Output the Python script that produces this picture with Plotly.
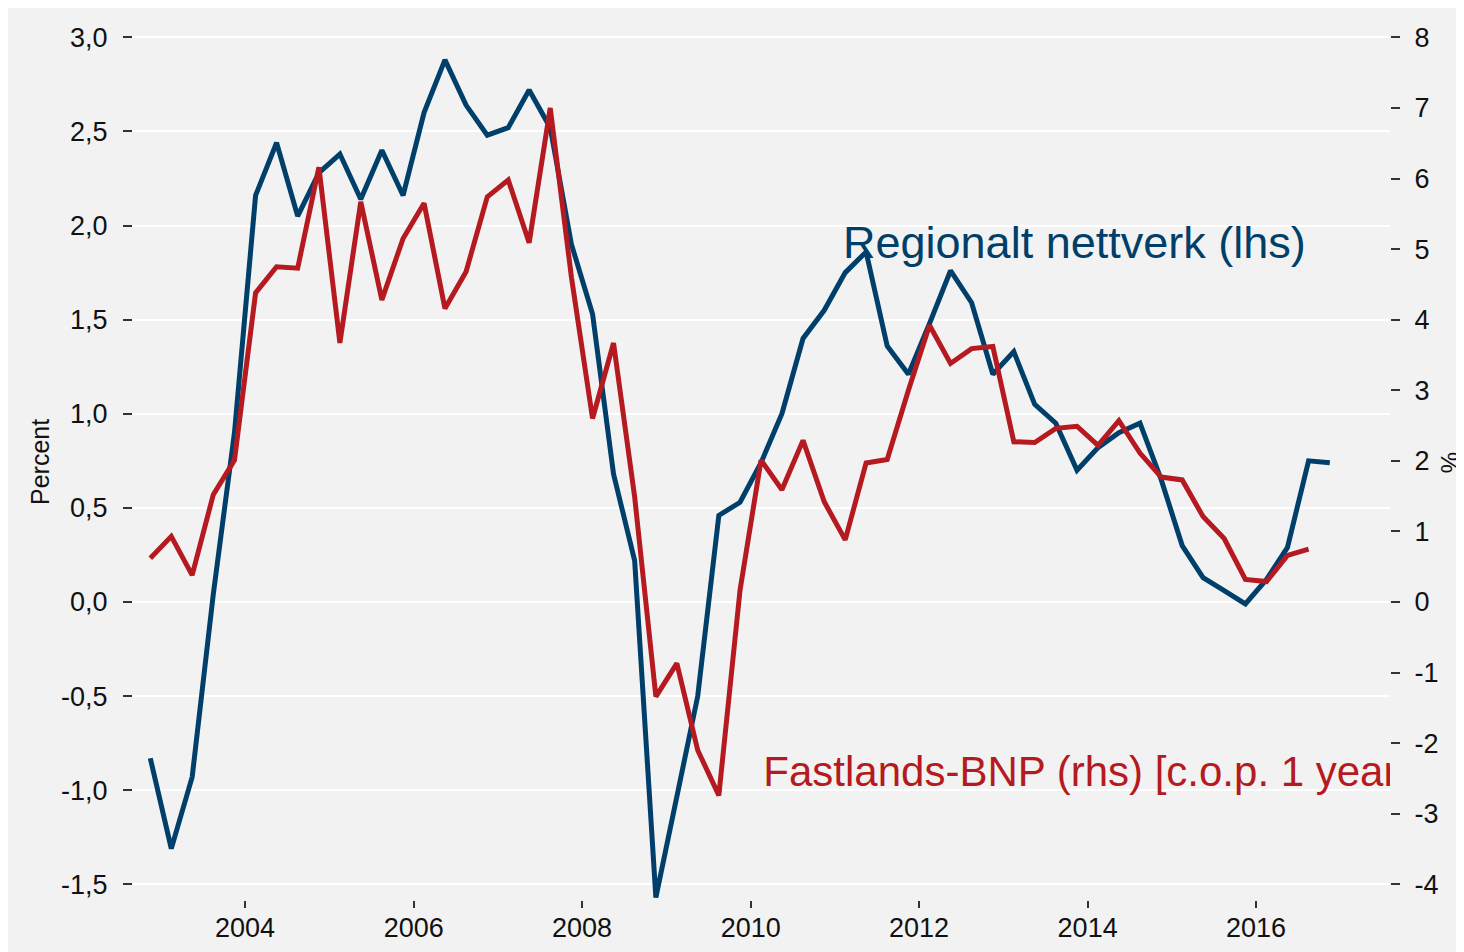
import pandas as pd
import plotly.graph_objects as go

# ---------------- data ----------------
start_quarter = "2002Q4"
regionalt_nettverk = [  # lhs, percent, 2002Q4 .. 2016Q4
    -0.83, -1.31, -0.93, 0.04, 0.90, 2.16, 2.44, 2.05, 2.28, 2.38,
    2.14, 2.40, 2.16, 2.60, 2.88, 2.64, 2.48, 2.52, 2.72, 2.52,
    1.90, 1.53, 0.68, 0.22, -1.57, -1.04, -0.50, 0.46, 0.53, 0.74,
    1.00, 1.40, 1.55, 1.75, 1.86, 1.36, 1.21, 1.48, 1.76, 1.59,
    1.21, 1.33, 1.05, 0.95, 0.70, 0.82, 0.90, 0.95, 0.65, 0.30,
    0.13, 0.06, -0.01, 0.12, 0.29, 0.75, 0.74,
]
fastlands_bnp = [  # rhs, %, 2002Q4 .. 2016Q3
    0.62, 0.93, 0.38, 1.52, 2.01, 4.38, 4.75, 4.73, 6.16, 3.67,
    5.67, 4.28, 5.15, 5.65, 4.16, 4.68, 5.74, 5.98, 5.09, 7.00,
    4.60, 2.60, 3.67, 1.49, -1.34, -0.87, -2.10, -2.74, 0.17, 2.01,
    1.59, 2.29, 1.42, 0.88, 1.97, 2.02, 3.00, 3.92, 3.38, 3.59,
    3.62, 2.27, 2.26, 2.46, 2.49, 2.22, 2.57, 2.11, 1.77, 1.73,
    1.21, 0.90, 0.32, 0.29, 0.66, 0.75,
]
left_tickvals = [3.0, 2.5, 2.0, 1.5, 1.0, 0.5, 0.0, -0.5, -1.0, -1.5]
left_ticktext = ["3,0", "2,5", "2,0", "1,5", "1,0", "0,5", "0,0", "-0,5", "-1,0", "-1,5"]
right_tickvals = [8, 7, 6, 5, 4, 3, 2, 1, 0, -1, -2, -3, -4]
right_ticktext = ["8", "7", "6", "5", "4", "3", "2", "1", "0", "-1", "-2", "-3", "-4"]
label_blue = "Regionalt nettverk (lhs)"
label_red = "Fastlands-BNP (rhs) [c.o.p. 1 year]"

# ---------------- dates (mid-quarter) ----------------
periods = pd.period_range(start_quarter, periods=len(regionalt_nettverk), freq="Q")
dates = [p.start_time + (p.end_time - p.start_time) / 2 for p in periods]
dates_blue = dates
dates_red = dates[: len(fastlands_bnp)]

BLUE = "#003F6A"
RED = "#B51A20"
BG = "#F2F2F2"
FONT = "Liberation Sans, Arial, sans-serif"
TXT = "#111111"

# page has an 8px body margin; figure coordinates = page - 8
W, H = 1464, 952
ML, MR, MT, MB = 125, 82, 12, 60
plot_w = W - ML - MR
plot_h = H - MT - MB

fig = go.Figure()
fig.add_trace(go.Scatter(x=dates_blue, y=regionalt_nettverk, mode="lines",
                         line=dict(color=BLUE, width=5), yaxis="y", showlegend=False,
                         name=label_blue))
fig.add_trace(go.Scatter(x=dates_red, y=fastlands_bnp, mode="lines",
                         line=dict(color=RED, width=5), yaxis="y2", showlegend=False,
                         name=label_red))
# red label (clipped at the plot edge, like the reference)
fig.add_trace(go.Scatter(x=[pd.Timestamp("2010-02-25")], y=[-0.92], mode="text",
                         text=[label_red], textposition="middle right",
                         textfont=dict(family=FONT, size=42, color=RED),
                         cliponaxis=True, showlegend=False, hoverinfo="skip"))

fig.update_layout(
    width=W, height=H,
    margin=dict(l=ML, r=MR, t=MT, b=MB, autoexpand=False),
    paper_bgcolor=BG, plot_bgcolor=BG,
    font=dict(family=FONT, size=26, color=TXT),
    xaxis=dict(type="date", range=["2002-09-02", "2017-08-04"],
               tick0="2004-01-01", dtick="M24", tickformat="%Y",
               showgrid=False, zeroline=False, showline=False,
               ticks="outside", ticklen=7, tickwidth=1.5, tickcolor="#333333",
               ticklabelstandoff=-3,
               tickfont=dict(size=27, family=FONT, color=TXT)),
    yaxis=dict(range=[-1.583, 3.092], tickvals=left_tickvals, ticktext=left_ticktext,
               showgrid=True, gridcolor="#FFFFFF", gridwidth=2, zeroline=False,
               showline=False, ticks="outside", ticklen=9, tickwidth=1.5,
               tickcolor="#333333", ticklabelstandoff=10,
               tickfont=dict(size=27, family=FONT, color=TXT)),
    yaxis2=dict(range=[-4.222, 8.246], overlaying="y", side="right",
                tickvals=right_tickvals, ticktext=right_ticktext,
                showgrid=False, zeroline=False, showline=False,
                ticks="outside", ticklen=9, tickwidth=1.5, tickcolor="#333333",
                ticklabelstandoff=9,
                tickfont=dict(size=27, family=FONT, color=TXT)),
)

px = lambda v: (v - 8 - ML) / plot_w          # page pixel -> paper x
py = lambda v: (H - MB - (v - 8)) / plot_h    # page pixel -> paper y

# series label (blue)
fig.add_annotation(xref="paper", yref="paper", x=px(841), y=py(242), xanchor="left", yanchor="middle",
                   text=label_blue, showarrow=False,
                   font=dict(family=FONT, size=45, color=BLUE))
# axis titles
fig.add_annotation(xref="paper", yref="paper", x=px(40), y=py(462), xanchor="center", yanchor="middle",
                   text="Percent", textangle=-90, showarrow=False,
                   font=dict(family=FONT, size=25, color=TXT))
fig.add_annotation(xref="paper", yref="paper", x=px(1449), y=py(462), xanchor="center", yanchor="middle",
                   text="%", textangle=90, showarrow=False,
                   font=dict(family=FONT, size=24, color=TXT))

fig.write_html("out.html")
